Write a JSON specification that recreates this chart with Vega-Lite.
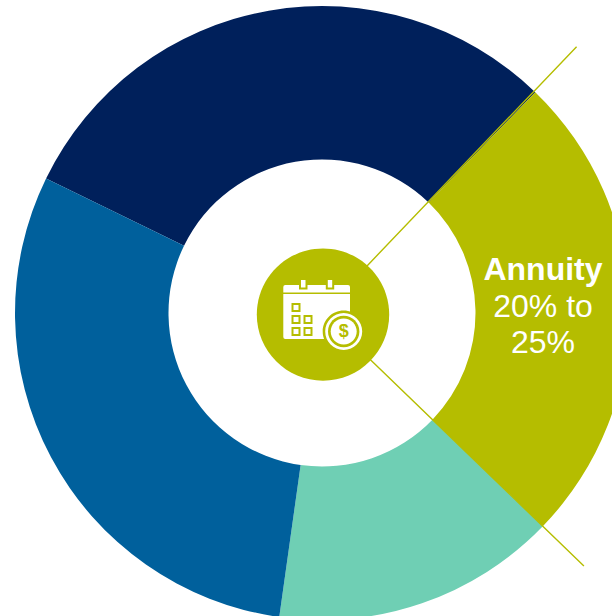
{
  "$schema": "https://vega.github.io/schema/vega-lite/v6.json",
  "width": 612,
  "height": 616,
  "autosize": {"type": "none"},
  "padding": {"left": 16, "top": 5, "right": -16, "bottom": -5},
  "background": "white",
  "config": {"view": {"stroke": null}},
  "datasets": {
    "segments": [
      {"segment": "Segment A", "share": 30, "seq": 1, "inner": 50, "outer": 100},
      {"segment": "Annuity", "share": 25, "seq": 2, "inner": 50, "outer": 100},
      {"segment": "Segment B", "share": 15, "seq": 3, "inner": 50, "outer": 100},
      {"segment": "Segment C", "share": 30, "seq": 4, "inner": 50, "outer": 100}
    ],
    "leaders": [
      {"edge": "upper", "at": 29.92, "from": 21, "to": 120},
      {"edge": "lower", "at": 55, "from": 21, "to": 118.6}
    ],
    "annuity": [{"mid": 42.5, "ring": 72}],
    "icon": [{"name": "calendar"}]
  },
  "layer": [
    {
      "data": {"name": "segments"},
      "mark": {"type": "arc"},
      "encoding": {
        "theta": {"field": "share", "type": "quantitative", "stack": true, "scale": {"domain": [0, 100], "range": [-1.117, 5.1662]}},
        "radius": {"field": "outer", "type": "quantitative", "scale": {"domain": [0, 120], "range": [0, 368.4]}},
        "radius2": {"field": "inner"},
        "color": {"field": "segment", "type": "nominal", "legend": null, "scale": {"domain": ["Segment A", "Annuity", "Segment B", "Segment C"], "range": ["#00205B", "#B5BD00", "#6FCFB4", "#00609C"]}},
        "order": {"field": "seq", "type": "ordinal"}
      }
    },
    {
      "data": {"name": "leaders"},
      "mark": {"type": "arc", "stroke": "#B5BD00", "strokeWidth": 1.4, "fill": "#B5BD00"},
      "encoding": {
        "theta": {"field": "at", "type": "quantitative", "stack": null},
        "theta2": {"field": "at"},
        "radius": {"field": "to", "type": "quantitative"},
        "radius2": {"field": "from"}
      }
    },
    {
      "data": {"name": "icon"},
      "layer": [
        {"mark": {"type": "point", "filled": true, "opacity": 1, "size": 4, "fill": "#B5BD00", "shape": "M-65.2 1.6A66.2 66.2 0 1 0 67.2 1.6A66.2 66.2 0 1 0 -65.2 1.6Z"}},
        {"mark": {"type": "point", "filled": true, "opacity": 1, "size": 4, "fill": "white", "shape": "M-38.7 -26Q-38.7 -28 -36.7 -28L26 -28Q28 -28 28 -26L28 -20.5L-38.7 -20.5ZM-38.7 -19L28 -19L28 24Q28 26 26 26L-36.7 26Q-38.7 26 -38.7 24Z"}},
        {"mark": {"type": "point", "filled": true, "opacity": 1, "size": 4, "fill": "#B5BD00", "shape": "M-23 -28.5L-14.5 -28.5L-14.5 -23.5L-23 -23.5ZM3.8 -28.5L12.2 -28.5L12.2 -23.5L3.8 -23.5ZM-30.5 -10L-21.5 -10L-21.5 -1L-30.5 -1ZM-30.5 2L-21.5 2L-21.5 11L-30.5 11ZM-18.5 2L-9.5 2L-9.5 11L-18.5 11ZM-30.5 14L-21.5 14L-21.5 23L-30.5 23ZM-18.5 14L-9.5 14L-9.5 23L-18.5 23ZM0.7 18.5A21 21 0 1 0 42.7 18.5A21 21 0 1 0 0.7 18.5Z"}},
        {"mark": {"type": "point", "filled": true, "opacity": 1, "size": 4, "fill": "white", "shape": "M-21 -33L-16.5 -33L-16.5 -25.5L-21 -25.5ZM5.8 -33L10.2 -33L10.2 -25.5L5.8 -25.5ZM-28.5 -8L-23.5 -8L-23.5 -3L-28.5 -3ZM-28.5 4L-23.5 4L-23.5 9L-28.5 9ZM-16.5 4L-11.5 4L-11.5 9L-16.5 9ZM-28.5 16L-23.5 16L-23.5 21L-28.5 21ZM-16.5 16L-11.5 16L-11.5 21L-16.5 21ZM3.2 18.5A18.5 18.5 0 1 0 40.2 18.5A18.5 18.5 0 1 0 3.2 18.5Z"}},
        {"mark": {"type": "point", "filled": true, "opacity": 1, "size": 4, "fill": "#B5BD00", "shape": "M6 18.5A15.7 15.7 0 1 0 37.4 18.5A15.7 15.7 0 1 0 6 18.5Z"}},
        {"mark": {"type": "point", "filled": true, "opacity": 1, "size": 4, "fill": "white", "shape": "M8.7 18.5A13 13 0 1 0 34.7 18.5A13 13 0 1 0 8.7 18.5Z"}},
        {"mark": {"type": "text", "text": "$", "font": "Liberation Sans", "fontWeight": "bold", "fontSize": 18, "fill": "#B5BD00", "align": "center", "baseline": "middle", "dx": 21.7, "dy": 19}}
      ]
    },
    {
      "data": {"name": "annuity"},
      "encoding": {
        "theta": {"field": "mid", "type": "quantitative", "stack": null},
        "radius": {"field": "ring", "type": "quantitative"}
      },
      "layer": [
        {"mark": {"type": "text", "text": "Annuity", "font": "Liberation Sans", "fontWeight": "bold", "fontSize": 32, "fill": "white", "align": "center", "baseline": "alphabetic", "dy": -29.5}},
        {"mark": {"type": "text", "text": "20% to", "font": "Liberation Sans", "fontSize": 32, "fill": "white", "align": "center", "baseline": "alphabetic", "dy": 7.5}},
        {"mark": {"type": "text", "text": "25%", "font": "Liberation Sans", "fontSize": 32, "fill": "white", "align": "center", "baseline": "alphabetic", "dy": 44}}
      ]
    }
  ]
}
